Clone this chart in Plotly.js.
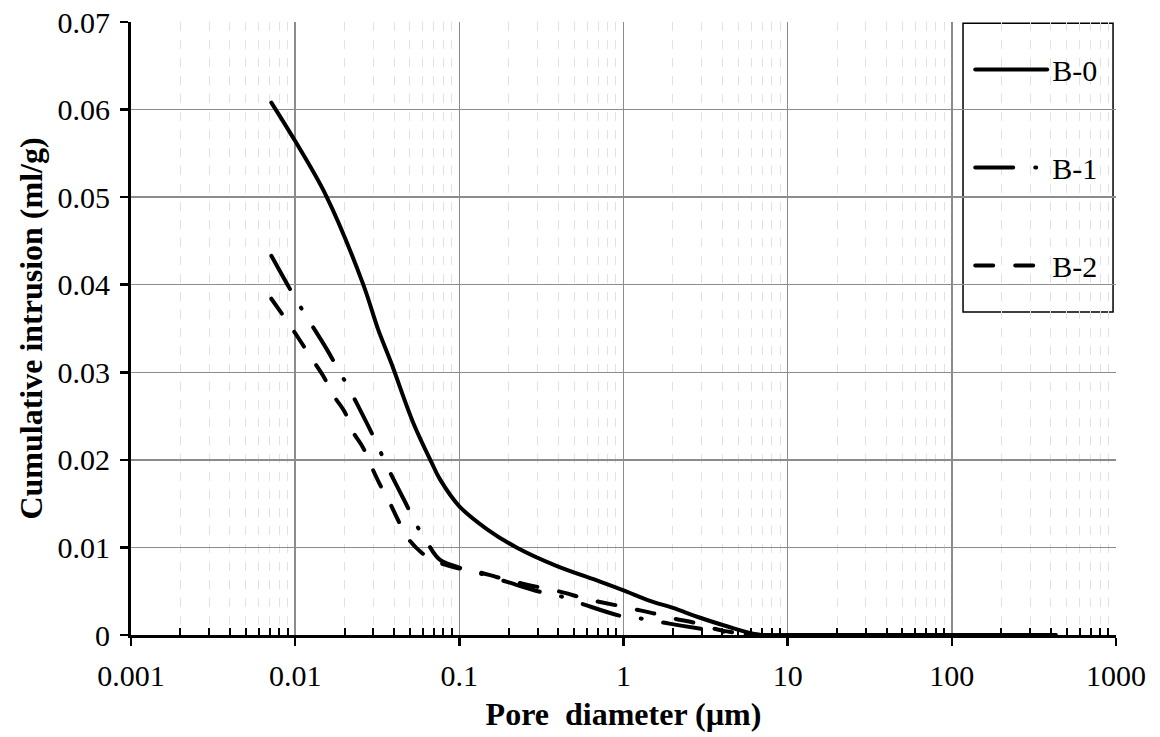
<!DOCTYPE html>
<html>
<head>
<meta charset="utf-8">
<script src="https://cdn.plot.ly/plotly-3.0.1.min.js"></script>
<style>
  html, body { margin: 0; padding: 0; background: #fff; }
  #chart { width: 1160px; height: 737px; }
  #chart .scatterlayer path.js-line,
  #chart .legend path.js-line { stroke-linecap: round; stroke-linejoin: round; }
</style>
</head>
<body>
<div id="chart"></div>
<script>
// ---- data ----
const seriesNames = ["B-0", "B-1", "B-2"];

const b0_x = [0.00716, 0.01, 0.0155, 0.0259, 0.032, 0.0386, 0.0522, 0.0677, 0.0761, 0.1, 0.147, 0.223, 0.39, 0.72, 1.0, 1.45, 2.0, 2.9, 4.26, 6.8, 10, 30, 100, 200, 430];
const b0_y = [0.0608, 0.0564, 0.0501, 0.0401, 0.0349, 0.0310, 0.0243, 0.0197, 0.0178, 0.0147, 0.0121, 0.0100, 0.0079, 0.0061, 0.0051, 0.0039, 0.0031, 0.0020, 0.0010, 0, 0, 0, 0, 0, 0];

const b1_x = [0.00716, 0.0097, 0.0115, 0.0155, 0.0182, 0.0212, 0.0278, 0.0317, 0.036, 0.047, 0.054, 0.063, 0.076, 0.1, 0.13, 0.2, 0.3, 0.4, 0.57, 1.0, 1.38, 1.9, 3.4, 5, 7, 20, 100, 430];
const b1_y = [0.0433, 0.0389, 0.0366, 0.0327, 0.0304, 0.0282, 0.0239, 0.0217, 0.0194, 0.0151, 0.0128, 0.0107, 0.0086, 0.0077, 0.0071, 0.0060, 0.0050, 0.0045, 0.0035, 0.0021, 0.0018, 0.0013, 0.00055, 0.0002, 0, 0, 0, 0];

const b2_x = [0.00716, 0.0095, 0.0109, 0.0129, 0.0148, 0.0172, 0.02, 0.0225, 0.0259, 0.0292, 0.0328, 0.0377, 0.0424, 0.0488, 0.0589, 0.07, 0.1, 0.13, 0.17, 0.25, 0.4, 0.6, 0.9, 1.2, 1.5, 2.06, 2.7, 4, 6, 7, 20, 100, 430];
const b2_y = [0.0384, 0.0351, 0.0334, 0.0313, 0.0296, 0.0273, 0.0255, 0.0232, 0.0214, 0.0192, 0.0172, 0.0151, 0.0131, 0.0110, 0.0094, 0.0085, 0.0076, 0.0072, 0.0066, 0.0058, 0.0050, 0.0041, 0.0034, 0.0029, 0.0025, 0.00185, 0.0014, 0.0005, 0.0001, 0, 0, 0, 0];

const xTickVals = [0.001, 0.01, 0.1, 1, 10, 100, 1000];
const xTickText = ["0.001", "0.01", "0.1", "1", "10", "100", "1000"];
const yTickVals = [0, 0.01, 0.02, 0.03, 0.04, 0.05, 0.06, 0.07];
const yTickText = ["0", "0.01", "0.02", "0.03", "0.04", "0.05", "0.06", "0.07"];

const xTitle = "Pore  diameter (µm)";
const yTitle = "Cumulative intrusion (ml/g)";

// minor tick positions (2..9 within each decade)
const minorVals = [];
for (let e = -3; e < 3; e++) {
  for (let m = 2; m <= 9; m++) minorVals.push(m * Math.pow(10, e));
}

const FONT = "Times New Roman, Liberation Serif, serif";

const lineStyles = [
  { color: "black", width: 4, dash: "solid" },
  { color: "black", width: 4, dash: "38px,22px,1px,22px" },
  { color: "black", width: 4, dash: "18px,22px" }
];

const xs = [b0_x, b1_x, b2_x];
const ys = [b0_y, b1_y, b2_y];

const traces = seriesNames.map((name, i) => ({
  type: "scatter",
  mode: "lines",
  name: name,
  x: xs[i],
  y: ys[i],
  legendgroup: "g" + i,
  line: Object.assign({ shape: "spline", smoothing: 1 }, lineStyles[i]),
  hoverinfo: "skip"
}));

const layout = {
  width: 1160,
  height: 737,
  margin: { l: 131, r: 44, t: 22, b: 102 },
  paper_bgcolor: "white",
  plot_bgcolor: "white",
  font: { family: FONT, color: "black", size: 30 },
  showlegend: true,
  legend: {
    x: 0.852, xanchor: "left",
    y: 0.965, yanchor: "top",
    bgcolor: "rgba(0,0,0,0)",
    borderwidth: 0,
    font: { family: FONT, size: 30, color: "black" },
    traceorder: "grouped",
    tracegroupgap: 56,
    itemwidth: 72
  },
  shapes: [{
    type: "rect", xref: "paper", yref: "paper",
    x0: 0.8447, x1: 0.997, y0: 0.527, y1: 0.998,
    line: { color: "black", width: 1.5 },
    fillcolor: "white",
    layer: "between"
  }],
  xaxis: {
    type: "log",
    range: [-3, 3],
    tickmode: "array",
    tickvals: xTickVals,
    ticktext: xTickText,
    ticks: "outside",
    ticklen: 8,
    tickwidth: 2.5,
    tickcolor: "black",
    tickfont: { family: FONT, size: 30, color: "black" },
    ticklabelstandoff: 4,
    showline: true,
    linecolor: "black",
    linewidth: 3,
    showgrid: true,
    gridcolor: "#8c8c8c",
    gridwidth: 1.5,
    zeroline: false,
    minor: {
      tickmode: "array",
      tickvals: minorVals,
      ticks: "inside",
      ticklen: 7,
      tickwidth: 2,
      tickcolor: "black",
      showgrid: true,
      gridcolor: "#e2e2e2",
      gridwidth: 1,
      griddash: "dash"
    },
    title: { text: xTitle, font: { family: FONT, size: 32, color: "black", weight: "bold" }, standoff: 12 }
  },
  yaxis: {
    range: [0, 0.07],
    tickmode: "array",
    tickvals: yTickVals,
    ticktext: yTickText,
    ticks: "outside",
    ticklen: 8,
    tickwidth: 2.5,
    tickcolor: "black",
    tickfont: { family: FONT, size: 30, color: "black" },
    ticklabelstandoff: 4,
    showline: true,
    linecolor: "black",
    linewidth: 3,
    showgrid: true,
    gridcolor: "#8c8c8c",
    gridwidth: 1.5,
    zeroline: false,
    title: { text: yTitle, font: { family: FONT, size: 32, color: "black", weight: "bold" }, standoff: 6 }
  }
};

Plotly.newPlot("chart", traces, layout, { staticPlot: true, displayModeBar: false });
</script>
</body>
</html>
